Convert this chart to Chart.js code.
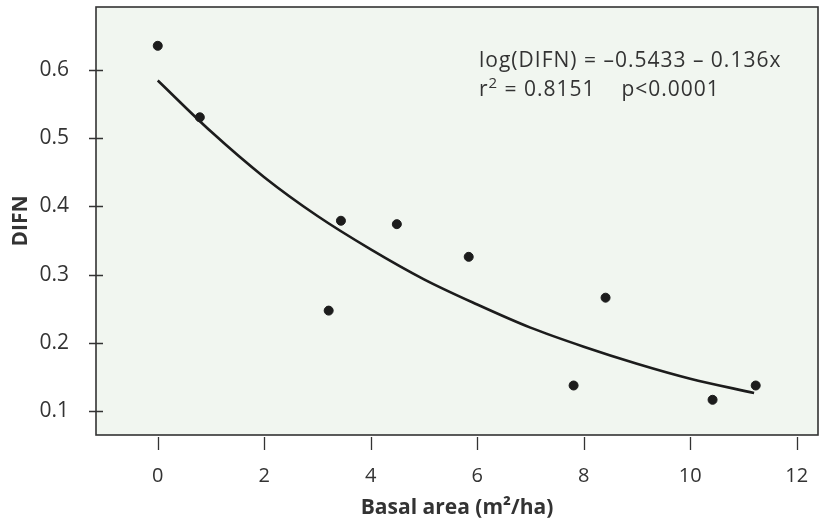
<!DOCTYPE html>
<html>

<head>
    <title>DIFN vs basal area</title>
    <meta charset="utf-8" />
    <style>
        html, body { margin: 0; padding: 0; background: #ffffff; }
        #wrap { width: 820px; height: 523px; }
    </style>
</head>

<body>
    <div id="wrap">
        <canvas id="myChart" width="820" height="523"></canvas>
    </div>

    <script src="https://cdn.jsdelivr.net/npm/chart.js"></script>
    <script type="text/javascript">
        // observed stands (basal area, DIFN)
        const basalArea = [0, 0.79, 3.21, 3.44, 4.49, 5.84, 7.81, 8.41, 10.42, 11.23];
        const difn = [0.636, 0.531, 0.247, 0.379, 0.374, 0.326, 0.137, 0.266, 0.116, 0.137];

        // fitted curve
        const fitX = [0, 1, 2, 3, 4, 5, 6, 7, 8, 9, 10, 11.2];
        const fitY = [0.585, 0.510, 0.443, 0.386, 0.337, 0.293, 0.256, 0.222, 0.194, 0.169, 0.147, 0.126];

        const xTicks = [0, 2, 4, 6, 8, 10, 12];
        const yTicks = [0.1, 0.2, 0.3, 0.4, 0.5, 0.6];

        const FONT = '"Open Sans", Lato, sans-serif';
        const INK = '#1c1c1c';
        const TEXT = '#333333';

        const frame = {
            id: 'frame',
            beforeDraw(chart) {
                const { ctx, chartArea: a } = chart;
                ctx.save();
                ctx.fillStyle = '#f1f6f0';
                ctx.fillRect(a.left, a.top, a.right - a.left, a.bottom - a.top);
                ctx.restore();
            },
            afterDatasetsDraw(chart) {
                const { ctx, chartArea: a } = chart;
                const x = chart.scales.x;
                const y = chart.scales.y;
                ctx.save();
                ctx.strokeStyle = '#333333';
                ctx.lineWidth = 1.6;
                ctx.strokeRect(a.left, a.top, a.right - a.left, a.bottom - a.top);
                ctx.lineWidth = 1.3;
                ctx.beginPath();
                yTicks.forEach((v) => {
                    const py = Math.round(y.getPixelForValue(v)) + 0.5;
                    ctx.moveTo(a.left - 7, py);
                    ctx.lineTo(a.left + 7, py);
                });
                xTicks.forEach((v) => {
                    const px = Math.round(x.getPixelForValue(v)) + 0.5;
                    ctx.moveTo(px, a.bottom + 2);
                    ctx.lineTo(px, a.bottom + 15);
                });
                ctx.stroke();

                // regression text
                ctx.fillStyle = TEXT;
                ctx.textAlign = 'left';
                ctx.textBaseline = 'alphabetic';
                ctx.letterSpacing = '1px';
                ctx.font = '21px ' + FONT;
                ctx.fillText('log(DIFN) = \u20130.5433 \u2013 0.136x', 479, 67);
                let cx = 479;
                ctx.fillText('r', cx, 96);
                cx += ctx.measureText('r').width;
                ctx.font = '15px ' + FONT;
                ctx.fillText('2', cx, 88);
                cx += ctx.measureText('2').width;
                ctx.font = '21px ' + FONT;
                ctx.fillText(' = 0.8151    p<0.0001', cx, 96);
                ctx.letterSpacing = '0px';
                ctx.restore();
            }
        };

        new Chart(document.getElementById('myChart'), {
            type: 'scatter',
            data: {
                datasets: [{
                    label: 'DIFN',
                    data: basalArea.map((v, i) => ({ x: v, y: difn[i] })),
                    backgroundColor: INK,
                    borderColor: INK,
                    pointRadius: 4.5,
                    pointHoverRadius: 4.5,
                    showLine: false
                }, {
                    label: 'fit',
                    data: fitX.map((v, i) => ({ x: v, y: fitY[i] })),
                    showLine: true,
                    borderColor: INK,
                    borderWidth: 2.6,
                    pointRadius: 0,
                    cubicInterpolationMode: 'monotone',
                    fill: false
                }]
            },
            options: {
                responsive: false,
                animation: false,
                events: [],
                layout: { autoPadding: false, padding: { top: 7, right: 2, left: 0, bottom: 0 } },
                plugins: {
                    legend: { display: false },
                    tooltip: { enabled: false }
                },
                scales: {
                    x: {
                        type: 'linear',
                        min: -1.16,
                        max: 12.4,
                        afterBuildTicks: (s) => { s.ticks = xTicks.map((v) => ({ value: v })); },
                        afterFit: (s) => {
                            s.height = 88;
                            s.paddingLeft = 0;
                            s.paddingRight = 0;
                        },
                        grid: { display: false },
                        border: { display: false },
                        ticks: {
                            color: TEXT,
                            font: { family: FONT, size: 20 },
                            padding: 21,
                            maxRotation: 0,
                            callback: (v) => String(v)
                        },
                        title: {
                            display: true,
                            text: 'Basal area (m\u00b2/ha)',
                            color: TEXT,
                            font: { family: FONT, size: 21, weight: 'bold', lineHeight: 1.2 },
                            padding: { top: 0, bottom: 2 }
                        }
                    },
                    y: {
                        type: 'linear',
                        min: 0.0643,
                        max: 0.693,
                        afterBuildTicks: (s) => { s.ticks = yTicks.map((v) => ({ value: v })); },
                        afterFit: (s) => {
                            s.width = 96;
                            s.paddingTop = 0;
                            s.paddingBottom = 0;
                        },
                        grid: { display: false },
                        border: { display: false },
                        ticks: {
                            color: TEXT,
                            font: { family: FONT, size: 21 },
                            padding: 19,
                            callback: (v) => v.toFixed(1)
                        },
                        title: {
                            display: true,
                            text: 'DIFN',
                            color: TEXT,
                            font: { family: FONT, size: 21, weight: 'bold', lineHeight: 1.2 },
                            padding: { top: 8, bottom: 0 }
                        }
                    }
                }
            },
            plugins: [frame]
        });
    </script>
</body>

</html>
